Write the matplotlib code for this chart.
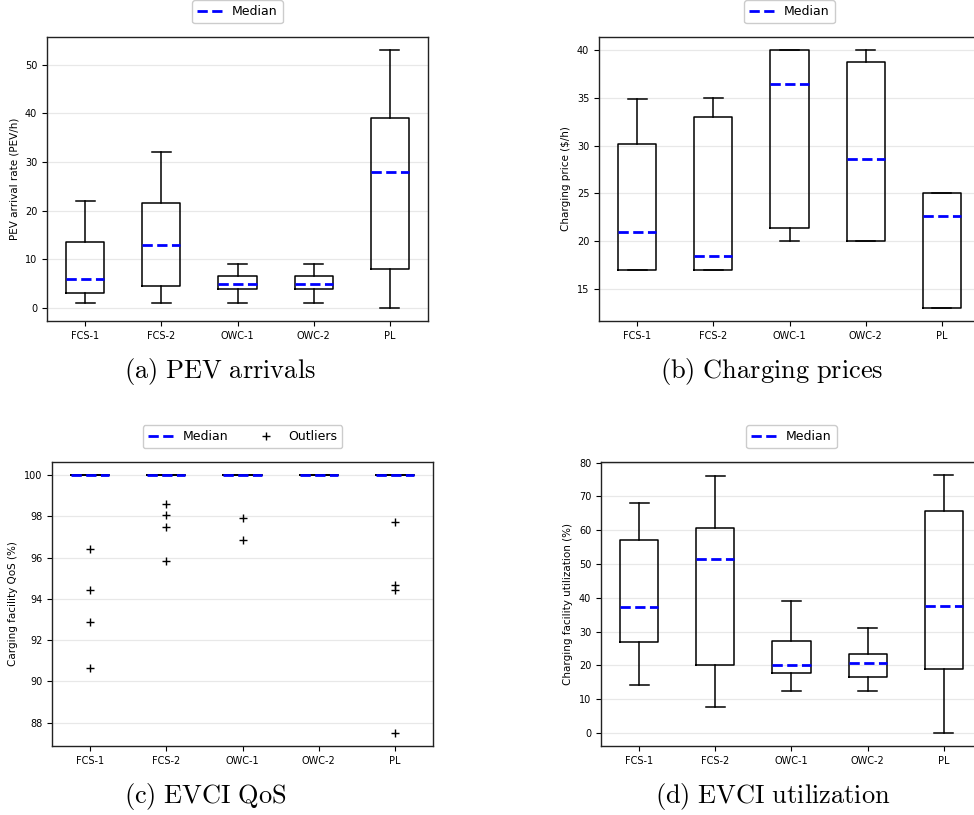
import matplotlib
matplotlib.use("Agg")
import matplotlib.pyplot as plt
from matplotlib.lines import Line2D

categories = ["FCS-1", "FCS-2", "OWC-1", "OWC-2", "PL"]

# (a) PEV arrivals
arr_lo = [1, 1, 1, 1, 0]
arr_q1 = [3, 4.5, 4, 4, 8]
arr_med = [6, 13, 5, 5, 28]
arr_q3 = [13.5, 21.5, 6.5, 6.5, 39]
arr_hi = [22, 32, 9, 9, 53]

# (b) Charging prices
pr_lo = [17, 17, 20, 20, 13]
pr_q1 = [17, 17, 21.35, 20, 13]
pr_med = [21.0, 18.4, 36.4, 28.6, 22.6]
pr_q3 = [30.2, 33.0, 39.95, 38.7, 25]
pr_hi = [34.9, 35.0, 40, 40, 25]

# (c) QoS
qos_lo = [100, 100, 100, 100, 100]
qos_q1 = [100, 100, 100, 100, 100]
qos_med = [100, 100, 100, 100, 100]
qos_q3 = [100, 100, 100, 100, 100]
qos_hi = [100, 100, 100, 100, 100]
qos_fliers = [
    [96.42, 94.44, 92.86, 90.63],
    [98.6, 98.06, 97.48, 95.83],
    [97.9, 96.87],
    [],
    [97.73, 94.68, 94.44, 87.5],
]

# (d) Utilization
ut_lo = [14.3, 7.7, 12.5, 12.5, 0]
ut_q1 = [26.8, 20.0, 17.7, 16.65, 19.0]
ut_med = [37.15, 51.5, 20.0, 20.8, 37.5]
ut_q3 = [57.0, 60.7, 27.3, 23.45, 65.8]
ut_hi = [67.9, 76.0, 39.0, 31.2, 76.35]

ylabels = ["PEV arrival rate (PEV/h)", "Charging price ($/h)",
           "Carging facility QoS (%)", "Charging facility utilization (%)"]
captions = ["(a)\\ PEV\\ arrivals", "(b)\\ Charging\\ prices",
            "(c)\\ EVCI\\ QoS", "(d)\\ EVCI\\ utilization"]


def make_stats(lo, q1, med, q3, hi, fliers=None):
    out = []
    for i in range(len(categories)):
        out.append(dict(whislo=lo[i], q1=q1[i], med=med[i], q3=q3[i], whishi=hi[i],
                        fliers=(fliers[i] if fliers is not None else []),
                        label=categories[i]))
    return out


datasets = [
    make_stats(arr_lo, arr_q1, arr_med, arr_q3, arr_hi),
    make_stats(pr_lo, pr_q1, pr_med, pr_q3, pr_hi),
    make_stats(qos_lo, qos_q1, qos_med, qos_q3, qos_hi, qos_fliers),
    make_stats(ut_lo, ut_q1, ut_med, ut_q3, ut_hi),
]

W, H = 974, 815
fig = plt.figure(figsize=(W / 100, H / 100), dpi=100)

rects_px = [(47, 37), (599, 37), (52, 462), (601, 462)]
aw, ah = 381, 284
cap_pos = [(220, 371), (772, 371), (205, 796), (773, 796)]

for k, (x0, y0) in enumerate(rects_px):
    ax = fig.add_axes([x0 / W, 1 - (y0 + ah) / H, aw / W, ah / H])
    ax.bxp(datasets[k], widths=0.5, showfliers=True,
           boxprops=dict(color="black", lw=1.1),
           whiskerprops=dict(color="black", lw=1.1),
           capprops=dict(color="black", lw=1.1),
           medianprops=dict(color="blue", lw=2, ls="--"),
           flierprops=dict(marker="+", markeredgecolor="black", markersize=6,
                           markeredgewidth=1.0, linestyle="none"))
    ax.yaxis.grid(True, color="#e8e8e8", lw=0.9)
    ax.set_axisbelow(True)
    ax.tick_params(labelsize=7)
    ax.set_ylabel(ylabels[k], fontsize=7.5)
    for s in ax.spines.values():
        s.set_linewidth(1.0)
        s.set_color("#222222")
    handles = [Line2D([], [], color="blue", lw=2, ls="--", label="Median")]
    if k == 2:
        handles.append(Line2D([], [], color="black", marker="+", ls="none",
                              markersize=6, label="Outliers"))
    ax.legend(handles=handles, loc="lower center", bbox_to_anchor=(0.5, 1.049),
              borderaxespad=0, ncol=len(handles), fontsize=9, columnspacing=2.0,
              handlelength=2.0, framealpha=1)
    cx, cy = cap_pos[k]
    fig.text(cx / W, 1 - cy / H, "$\\mathrm{" + captions[k] + "}$",
             ha="center", va="center", fontsize=19, math_fontfamily="cm")

fig.savefig("out.png", dpi=100)
